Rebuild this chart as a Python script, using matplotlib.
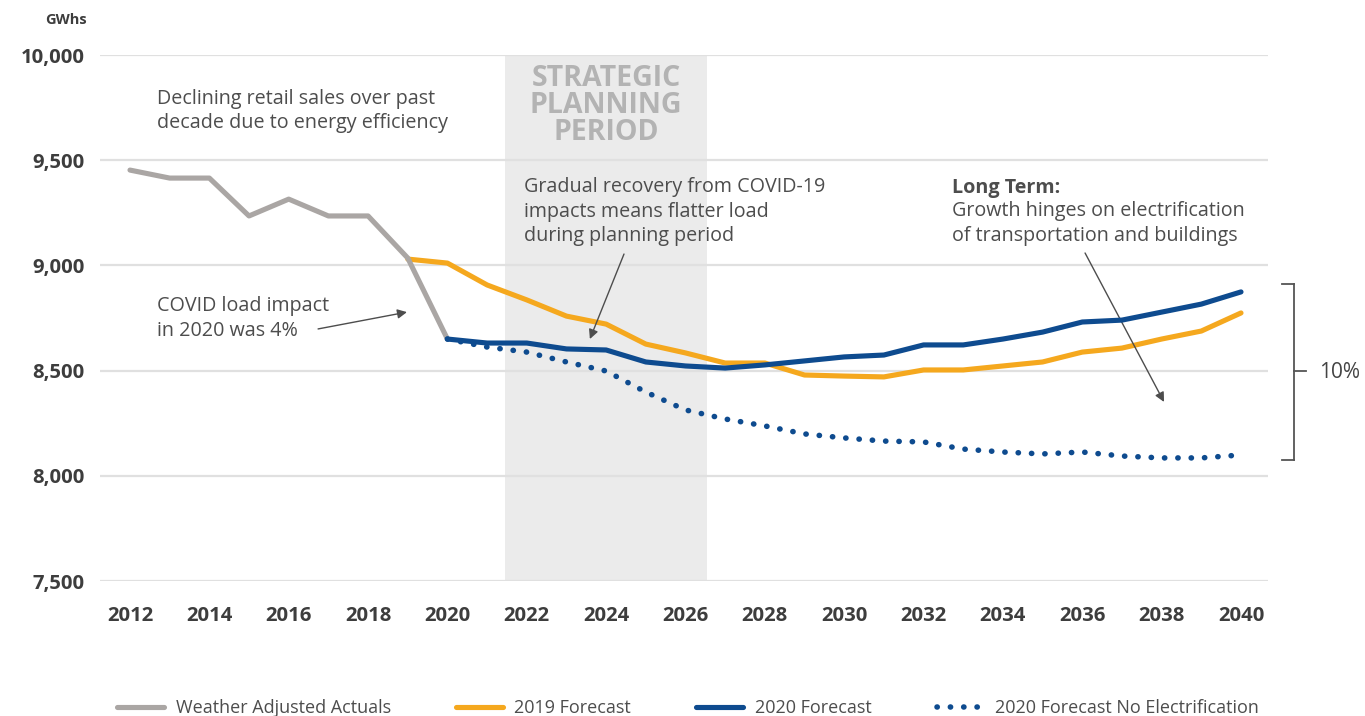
import matplotlib
matplotlib.use("Agg")
import matplotlib.pyplot as plt
from matplotlib.lines import Line2D

plt.rcParams['font.family'] = ['Open Sans', 'DejaVu Sans']

# ---------------- data ----------------
actual_years = list(range(2012, 2021))
actual_vals = [9453, 9415, 9415, 9235, 9315, 9235, 9235, 9035, 8650]

f2019_years = list(range(2019, 2041))
f2019_vals = [9030, 9011, 8907, 8836, 8759, 8721, 8626, 8584, 8536, 8536, 8479,
              8474, 8470, 8503, 8503, 8522, 8541, 8588, 8607, 8650, 8688, 8774]

f2020_years = list(range(2020, 2041))
f2020_vals = [8650, 8631, 8631, 8603, 8598, 8541, 8522, 8512, 8527, 8546, 8565,
              8574, 8622, 8622, 8650, 8683, 8731, 8740, 8778, 8816, 8874]

noelec_years = list(range(2020, 2041))
noelec_vals = [8650, 8612, 8588, 8541, 8498, 8398, 8313, 8270, 8237, 8199, 8180,
               8165, 8161, 8127, 8113, 8104, 8113, 8094, 8085, 8085, 8099]

x_ticks = list(range(2012, 2041, 2))
y_ticks = [7500, 8000, 8500, 9000, 9500, 10000]
y_tick_labels = ["7,500", "8,000", "8,500", "9,000", "9,500", "10,000"]
series_names = ["Weather Adjusted Actuals", "2019 Forecast", "2020 Forecast",
                "2020 Forecast No Electrification"]
planning_period = (2021.45, 2026.55)

# ---------------- style ----------------
GRAY = "#aaa6a4"
ORANGE = "#f5a81e"
BLUE = "#0e4b8f"
TXT = "#4d4d4d"
TICK = "#3d3d3d"
FS = 14.2

W, H = 1365, 716
fig = plt.figure(figsize=(W / 100, H / 100), dpi=100)
ax = fig.add_axes([100 / W, 1 - 581 / H, 1168 / W, 526 / H])

ax.set_xlim(2012 - 30 / 39.68, 2040 + 27 / 39.68)
ax.set_ylim(7500, 10000)

ax.axvspan(*planning_period, color="#ebebeb", lw=0, zorder=0)

ax.set_yticks(y_ticks)
ax.set_yticklabels(y_tick_labels)
ax.set_xticks(x_ticks)
ax.grid(axis="y", color="#e0e0e0", lw=1.6, zorder=0.5)
ax.set_axisbelow(True)
for s in ax.spines.values():
    s.set_visible(False)
ax.tick_params(axis="both", length=0, labelcolor=TICK, labelsize=14.6)
ax.tick_params(axis="y", pad=11)
ax.tick_params(axis="x", pad=18)
for lab in ax.get_xticklabels() + ax.get_yticklabels():
    lab.set_fontweight("bold")

lw = 3.7
l_act, = ax.plot(actual_years, actual_vals, color=GRAY, lw=lw, solid_capstyle="round",
                 solid_joinstyle="round", zorder=3, label=series_names[0])
l_19, = ax.plot(f2019_years, f2019_vals, color=ORANGE, lw=lw, solid_capstyle="round",
                solid_joinstyle="round", zorder=2, label=series_names[1])
l_ne, = ax.plot(noelec_years, noelec_vals, color=BLUE, lw=4.0, linestyle=(0, (0.05, 2.35)),
                dash_capstyle="round", zorder=3, label=series_names[3])
l_20, = ax.plot(f2020_years, f2020_vals, color=BLUE, lw=lw, solid_capstyle="round",
                solid_joinstyle="round", zorder=4, label=series_names[2])

# ---------------- text ----------------
ax.text(sum(planning_period) / 2, 9760, "STRATEGIC\nPLANNING\nPERIOD", ha="center", va="center",
        color="#b3b3b3", fontsize=20.5, fontweight="bold", linespacing=0.92, zorder=1)

ax.text(2012.68, 9735, "Declining retail sales over past\ndecade due to energy efficiency",
        ha="left", va="center", color=TXT, fontsize=FS, linespacing=1.3)
ax.text(2012.68, 8748, "COVID load impact\nin 2020 was 4%",
        ha="left", va="center", color=TXT, fontsize=FS, linespacing=1.3)
ax.text(2021.93, 9255, "Gradual recovery from COVID-19\nimpacts means flatter load\nduring planning period",
        ha="left", va="center", color=TXT, fontsize=FS, linespacing=1.3)
ax.text(2032.72, 9370, "Long Term:", ha="left", va="center", color=TXT, fontsize=FS,
        fontweight="bold")
ax.text(2032.72, 9198, "Growth hinges on electrification\nof transportation and buildings",
        ha="left", va="center", color=TXT, fontsize=FS, linespacing=1.3)

arrow = dict(arrowstyle="-|>", color="#4d4d4d", lw=1.0, mutation_scale=14, shrinkA=0, shrinkB=0)
ax.annotate("", xy=(2018.98, 8778), xytext=(2016.74, 8698), arrowprops=arrow)
ax.annotate("", xy=(2023.59, 8650), xytext=(2024.45, 9054), arrowprops=arrow)
ax.annotate("", xy=(2038.06, 8351), xytext=(2036.07, 9059), arrowprops=arrow)

# bracket (figure pixel coords)
def px(x, y):
    return x / W, 1 - y / H

bk = dict(color="#555555", lw=1.3, transform=fig.transFigure)
for (x0, y0), (x1, y1) in [((1282, 284), (1294, 284)), ((1294, 284), (1294, 460)),
                           ((1282, 460), (1294, 460)), ((1294, 371), (1306, 371))]:
    a, b = px(x0, y0)
    c, d = px(x1, y1)
    fig.add_artist(Line2D([a, c], [b, d], **bk))
fig.text(*px(1319, 373), "10%", ha="left", va="center", color="#444444", fontsize=15)

fig.text(*px(66, 20), "GWhs", ha="center", va="center", color=TICK, fontsize=10.5, fontweight="bold")

leg = fig.legend(handles=[l_act, l_19, l_20, l_ne], loc="center", bbox_to_anchor=(688 / W, 1 - 708 / H),
                 ncol=4, frameon=False, fontsize=13, handlelength=2.6, handletextpad=0.65,
                 columnspacing=3.6, labelcolor=TXT)

fig.savefig("out.png", dpi=100)
